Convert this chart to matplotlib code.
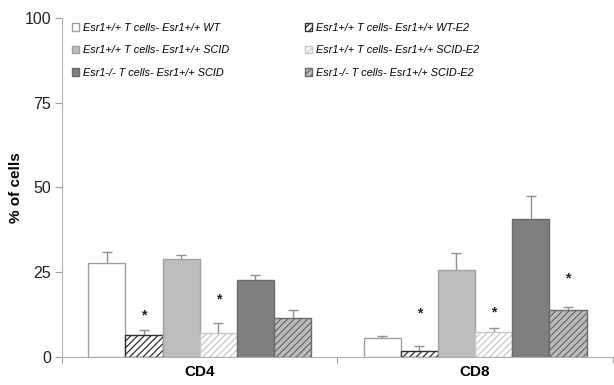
import matplotlib.pyplot as plt
import numpy as np

plt.rcParams['font.family'] = ['Liberation Sans', 'DejaVu Sans']
plt.rcParams['hatch.linewidth'] = 0.9

# dados
grupos = ['CD4', 'CD8']
series = [
    'Esr1+/+ T cells- Esr1+/+ WT',
    'Esr1+/+ T cells- Esr1+/+ WT-E2',
    'Esr1+/+ T cells- Esr1+/+ SCID',
    'Esr1+/+ T cells- Esr1+/+ SCID-E2',
    'Esr1-/- T cells- Esr1+/+ SCID',
    'Esr1-/- T cells- Esr1+/+ SCID-E2',
]
cd4 = [27.7, 6.3, 28.9, 7.0, 22.6, 11.5]
cd8 = [5.6, 1.6, 25.5, 7.3, 40.5, 13.8]
cd4_err = [3.2, 1.6, 1.2, 3.0, 1.6, 2.3]
cd8_err = [0.5, 1.6, 5.0, 1.2, 7.0, 0.7]
# asteriscos (serie, altura)
asteriscos_cd4 = {1: 12.1, 3: 16.9}
asteriscos_cd8 = {1: 12.6, 3: 12.9, 5: 23.0}

cores = ['white', 'white', '#bdbdbd', 'white', '#7f7f7f', '#bdbdbd']
hatches = [None, '/////', None, '/////', None, '/////']
cor_hatch = ['#a0a0a0', '#303030', '#a0a0a0', '#c8c8c8', '#6a6a6a', '#6a6a6a']

fig = plt.figure(figsize=(6.14, 3.85), dpi=100)
ax = fig.add_axes([0.101, 0.074, 0.897, 0.879])

largura = 0.135
centros = np.array([0.5, 1.5])
valores = np.array([cd4, cd8])
erros = np.array([cd4_err, cd8_err])

barras = []
for i in range(6):
    x = centros + (i - 2.5) * largura
    b = ax.bar(x, valores[:, i], largura, color=cores[i], edgecolor=cor_hatch[i],
               hatch=hatches[i], linewidth=1.0, label=series[i], zorder=2)
    barras.append(b)
    ax.vlines(x, valores[:, i], valores[:, i] + erros[:, i], color='#909090',
              linewidth=1.0, zorder=1)
    ax.plot(x, valores[:, i] + erros[:, i], linestyle='none', marker='_',
            markersize=7, color='#909090', markeredgewidth=1.0, zorder=1)

for g, ast in enumerate([asteriscos_cd4, asteriscos_cd8]):
    for i, h in ast.items():
        ax.text(centros[g] + (i - 2.5) * largura, h, '*', ha='center', va='center',
                fontsize=10, fontweight='bold', color='#222222')

ax.set_xlim(0, 2)
ax.set_ylim(0, 100)
ax.set_yticks([0, 25, 50, 75, 100])
ax.tick_params(axis='y', labelsize=11.5, colors='#a0a0a0', labelcolor='#222222',
               length=5, width=0.8, pad=3)
ax.set_xticks([0, 1, 2])
ax.set_xticklabels([])
ax.set_xticks(centros, minor=True)
ax.set_xticklabels(grupos, minor=True, fontsize=11, fontweight='bold')
ax.tick_params(axis='x', which='major', colors='#a0a0a0', length=4, width=0.8)
ax.tick_params(axis='x', which='minor', length=0, pad=6)

ax.set_ylabel('% of cells', fontsize=11, fontweight='bold')
ax.yaxis.set_label_coords(-0.071, 0.5)

for s in ['top', 'right']:
    ax.spines[s].set_visible(False)
for s in ['left', 'bottom']:
    ax.spines[s].set_color('#b0b0b0')
    ax.spines[s].set_linewidth(0.8)

ordem = [0, 2, 4, 1, 3, 5]
leg = ax.legend([barras[i] for i in ordem], [series[i] for i in ordem],
                ncol=2, loc='upper left', bbox_to_anchor=(0.0, 1.015),
                frameon=False, prop={'style': 'italic', 'size': 7.8},
                handlelength=0.7, handleheight=0.7, handletextpad=0.3,
                columnspacing=7.0, labelspacing=1.15)

fig.savefig('out.png', dpi=100)
